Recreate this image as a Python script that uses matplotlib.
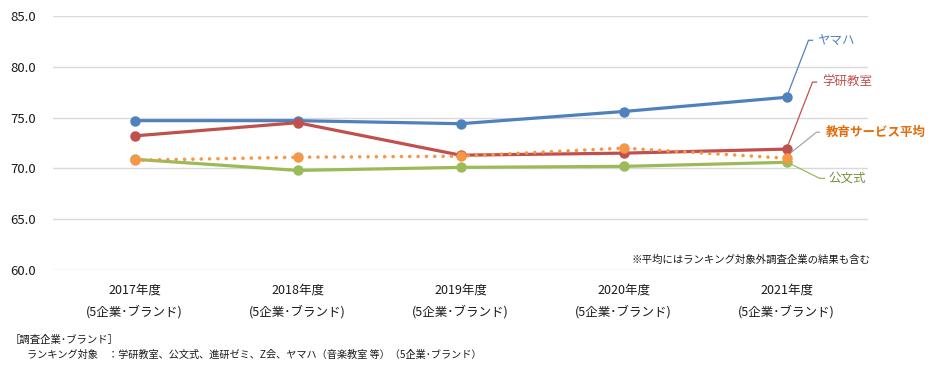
import matplotlib.pyplot as plt
from matplotlib.lines import Line2D
from matplotlib.transforms import IdentityTransform

plt.rcParams['font.family'] = ['Noto Sans CJK JP', 'DejaVu Sans']

years = ["2017年度", "2018年度", "2019年度", "2020年度", "2021年度"]
sub = "(5企業･ブランド)"
yamaha = [74.7, 74.7, 74.4, 75.6, 77.0]
gakken = [73.2, 74.5, 71.3, 71.5, 71.9]
kumon = [70.9, 69.8, 70.1, 70.2, 70.6]
average = [70.8, 71.1, 71.2, 72.0, 71.0]

c_blue = "#4F81BD"
c_red = "#C0504D"
c_green = "#9BBB59"
c_orange = "#F79646"

fig = plt.figure(figsize=(9.4, 3.76), dpi=100)
ax = fig.add_axes([53/940, 1-270/376, 815/940, 254/376])

x = list(range(len(years)))
ax.plot(x, yamaha, color=c_blue, lw=2.3, marker='o', ms=6.5, zorder=3)
ax.plot(x, gakken, color=c_red, lw=2.3, marker='o', ms=6.5, zorder=3)
ax.plot(x, kumon, color=c_green, lw=2.3, marker='o', ms=6.5, zorder=3)
ax.plot(x, average, color=c_orange, lw=2.6, ls=(0, (0.01, 2.3)),
        dash_capstyle='round', marker='o', ms=6.5, zorder=4)

ax.set_xlim(-0.5, 4.5)
ax.set_ylim(60, 85)
ax.set_yticks([60, 65, 70, 75, 80, 85])
ax.set_yticklabels([f"{v:.1f}" for v in [60, 65, 70, 75, 80, 85]], fontsize=9.5)
ax.set_xticks(x)
ax.set_xticklabels([f"{y}\n{sub}" for y in years], fontsize=9, linespacing=1.75)
ax.tick_params(length=0, labelcolor='#1a1a1a')
ax.tick_params(axis='y', pad=12)
ax.tick_params(axis='x', pad=10)
ax.grid(axis='y', color='#D9D9D9', lw=1)
ax.set_axisbelow(True)
for s in ax.spines.values():
    s.set_visible(False)

fig.canvas.draw()

# leader lines and labels at the 2021 end
labels = [
    ("ヤマハ", yamaha, c_blue, c_blue, "normal", [(0, 0), (22, 57), (26, 57)], 31),
    ("学研教室", gakken, c_red, c_red, "normal", [(0, 0), (26, 67), (30, 67)], 36),
    ("教育サービス平均", average, "#A6A6A6", "#E46C0A", "bold", [(5, 6), (30, 26), (33, 26)], 39),
    ("公文式", kumon, c_green, "#77933C", "normal", [(3, -1), (33, -16), (38, -16)], 42),
]
for text, series, lc, tc, fw, offs, tx in labels:
    bx, by = ax.transData.transform((4, series[-1]))
    xs = [bx + dx for dx, dy in offs]
    ys = [by + dy for dx, dy in offs]
    fig.add_artist(Line2D(xs, ys, color=lc, lw=0.9, transform=IdentityTransform()))
    fig.text((bx + tx) / 940, (by + offs[-1][1]) / 376, text, color=tc,
             fontsize=9, fontweight=fw, va='center', ha='left')

fig.text(870/940, 1-260/376, "※平均にはランキング対象外調査企業の結果も含む",
         fontsize=7.5, ha='right', va='center', color='#1a1a1a')
fig.text(10/940, 1-340/376, "［調査企業･ブランド］", fontsize=7.5, ha='left', va='center',
         color='#1a1a1a')
fig.text(27/940, 1-355/376,
         "ランキング対象　：学研教室、公文式、進研ゼミ、Z会、ヤマハ（音楽教室 等）（5企業･ブランド）",
         fontsize=7.3, ha='left', va='center', color='#1a1a1a')

fig.savefig("out.png", dpi=100)
